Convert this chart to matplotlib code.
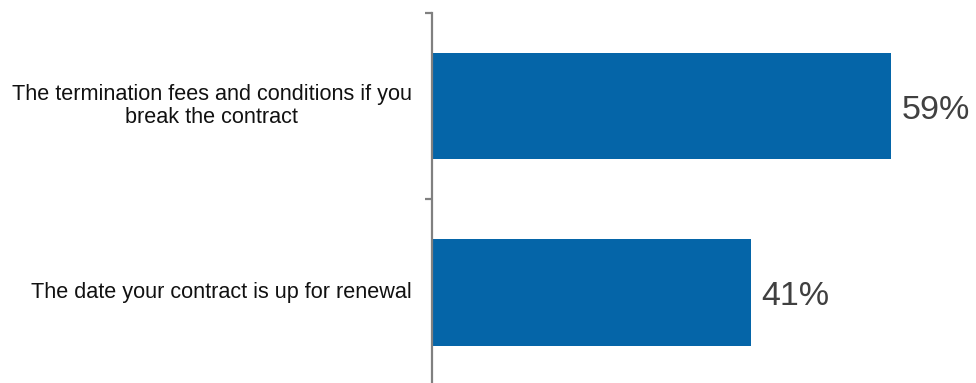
import matplotlib.pyplot as plt

categories = [
    "The termination fees and conditions if you\nbreak the contract",
    "The date your contract is up for renewal",
]
values = [59, 41]

plt.rcParams['font.family'] = ['Liberation Sans', 'DejaVu Sans']

fig = plt.figure(figsize=(9.76, 3.83), dpi=100)
ax = fig.add_axes([0.4426, -0.0072, 0.5574, 0.9739])

pos = list(range(len(values)))
bars = ax.barh(pos, values, height=0.57, color='#0565a8')
ax.set_ylim(len(values) - 0.5, -0.5)
ax.set_xlim(0, 70)

for b, v in zip(bars, values):
    ax.annotate(f"{v}%", (v, b.get_y() + b.get_height() / 2),
                xytext=(8, -3), textcoords='offset points',
                va='center', ha='left', fontsize=24.5, color='#404040')

for s in ['top', 'right', 'bottom']:
    ax.spines[s].set_visible(False)
ax.spines['left'].set_color('#808080')
ax.spines['left'].set_linewidth(1.6)
ax.set_xticks([])

# category labels sit between the boundary ticks
ax.set_yticks([-0.5, 0.5, 1.5])
ax.set_yticklabels([])
ax.tick_params(axis='y', length=5, width=1.6, color='#808080', direction='out')
for p, c in zip(pos, categories):
    ax.text(-0.037, p, c, transform=ax.get_yaxis_transform(), ha='right',
            va='center', multialignment='center', fontsize=15.6, color='#111111',
            linespacing=1.18)

fig.savefig('out.png', dpi=100)
